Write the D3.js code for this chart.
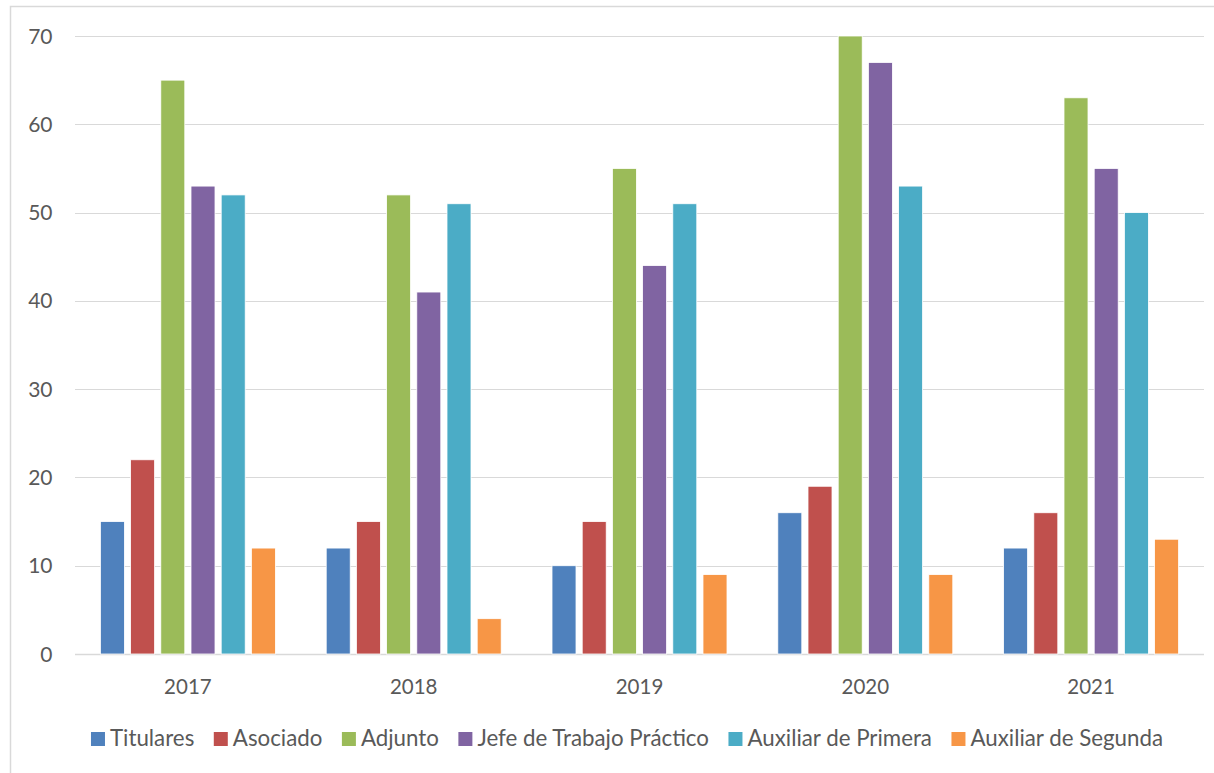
<!DOCTYPE html>
<html>
<head>
<meta charset="utf-8">
<script src="https://cdn.jsdelivr.net/npm/d3@7"></script>
<style>
  html, body { margin: 0; padding: 0; background: #fff; }
  svg { display: block; }
  text { font-family: Lato, "Open Sans", sans-serif; fill: #595959; }
</style>
</head>
<body>
<svg id="chart" width="1214" height="773"></svg>
<script>
const years = ["2017", "2018", "2019", "2020", "2021"];
const seriesNames = ["Titulares", "Asociado", "Adjunto", "Jefe de Trabajo Práctico", "Auxiliar de Primera", "Auxiliar de Segunda"];
const titulares = [15, 12, 10, 16, 12];
const asociado = [22, 15, 15, 19, 16];
const adjunto = [65, 52, 55, 70, 63];
const jefeTP = [53, 41, 44, 67, 55];
const auxPrimera = [52, 51, 51, 53, 50];
const auxSegunda = [12, 4, 9, 9, 13];
const yTicks = [0, 10, 20, 30, 40, 50, 60, 70];
const colors = ["#4F81BD", "#C0504D", "#9BBB59", "#8064A2", "#4BACC6", "#F79646"];

const seriesValues = [titulares, asociado, adjunto, jefeTP, auxPrimera, auxSegunda];

const svg = d3.select("#chart");
const plotLeft = 75, plotRight = 1204, plotTop = 36, plotBottom = 654;

// frame
svg.append("rect")
  .attr("x", 10.5).attr("y", 6.5)
  .attr("width", 1220).attr("height", 790)
  .attr("fill", "none").attr("stroke", "#d9d9d9").attr("stroke-width", 1.5);

const y = d3.scaleLinear().domain([0, 70]).range([plotBottom, plotTop]);
const x0 = d3.scaleBand().domain(years).range([plotLeft, plotRight]).paddingInner(0.225).paddingOuter(0.1125);
const x1 = d3.scaleBand().domain(seriesNames).range([0, x0.bandwidth()]).paddingInner(0.205).paddingOuter(0);

// gridlines
svg.append("g").selectAll("line").data(yTicks).join("line")
  .attr("x1", plotLeft).attr("x2", plotRight)
  .attr("y1", d => Math.round(y(d)) + 0.5).attr("y2", d => Math.round(y(d)) + 0.5)
  .attr("stroke", "#d9d9d9").attr("stroke-width", d => d === 0 ? 1.5 : 1.2);

// y tick labels
svg.append("g").selectAll("text").data(yTicks).join("text")
  .attr("x", 52.5).attr("y", d => y(d) + 7.5)
  .attr("text-anchor", "end")
  .style("font-size", "21px")
  .text(d => d);

// bars
const groups = svg.append("g").selectAll("g").data(years).join("g")
  .attr("transform", d => `translate(${x0(d)},0)`);
groups.selectAll("rect").data((yr, i) => seriesNames.map((s, k) => ({ s, k, v: seriesValues[k][i] })))
  .join("rect")
  .attr("x", d => x1(d.s))
  .attr("width", x1.bandwidth())
  .attr("y", d => y(d.v))
  .attr("height", d => y(0) - y(d.v))
  .attr("fill", d => colors[d.k])
  .attr("stroke", "#ffffff").attr("stroke-width", 0.8);

// x labels
svg.append("g").selectAll("text").data(years).join("text")
  .attr("x", d => x0(d) + x0.bandwidth() / 2)
  .attr("y", 693.5)
  .attr("text-anchor", "middle")
  .style("font-size", "20.5px")
  .text(d => d);

// legend
const legend = svg.append("g");
const items = legend.selectAll("g").data(seriesNames).join("g");
items.append("rect")
  .attr("width", 14).attr("height", 14).attr("y", 732)
  .attr("fill", (d, i) => colors[i]);
items.append("text")
  .attr("x", 19).attr("y", 746)
  .style("font-size", "22.3px")
  .text(d => d);
let widths = [];
items.each(function() { widths.push(this.querySelector("text").getComputedTextLength() + 19); });
const gap = 19.5;
const total = d3.sum(widths) + gap * (widths.length - 1);
let cx = (92 + 1162) / 2 - total / 2;
items.attr("transform", (d, i) => { const t = `translate(${cx},0)`; cx += widths[i] + gap; return t; });
</script>
</body>
</html>
